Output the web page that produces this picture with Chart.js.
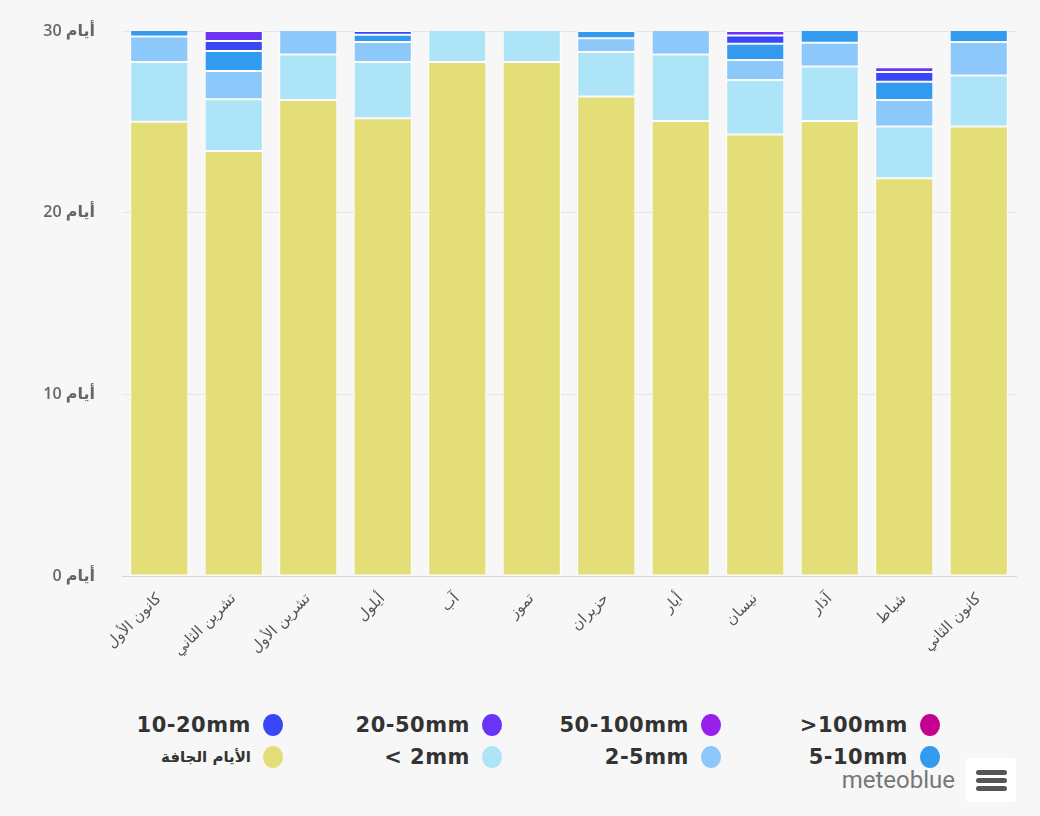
<!DOCTYPE html>
<html lang="ar">
<head>
<meta charset="utf-8">
<title>أيام الهطول - meteoblue</title>
<script src="https://cdn.jsdelivr.net/npm/chart.js@4/dist/chart.umd.min.js"></script>
<style>
  html, body {
    margin: 0;
    padding: 0;
    background: #f7f7f7;
    width: 1040px;
    height: 816px;
    overflow: hidden;
    font-family: "Open Sans", "DejaVu Sans", sans-serif;
  }
  #chartBox {
    position: absolute;
    left: 0;
    top: 0;
    width: 1040px;
    height: 700px;
  }
  .legend-item {
    position: absolute;
    display: flex;
    align-items: center;
    height: 26px;
    white-space: nowrap;
  }
  .legend-item span.txt {
    font-family: "DejaVu Sans", sans-serif;
    font-weight: bold;
    font-size: 21px;
    letter-spacing: 0.5px;
    color: #333;
    margin-right: 12px;
  }
  .legend-item span.txt.ar {
    font-size: 15px;
    letter-spacing: 0;
  }
  .legend-item span.dot {
    width: 20px;
    height: 22px;
    border-radius: 50%;
    display: inline-block;
  }
  #brand {
    position: absolute;
    right: 85px;
    top: 766px;
    font-family: Roboto, "Open Sans", sans-serif;
    font-size: 24px;
    color: #777;
  }
  #menu {
    position: absolute;
    left: 966px;
    top: 758px;
    width: 50px;
    height: 44px;
    background: #fff;
    border-radius: 3px;
  }
  #menu i {
    position: absolute;
    left: 10px;
    width: 31px;
    height: 5px;
    border-radius: 3px;
    background: #555;
  }
</style>
</head>
<body>
<div id="chartBox"><canvas id="rainDays"></canvas></div>
<div id="legend"></div>
<div id="brand">meteoblue</div>
<div id="menu"><i style="top:12px"></i><i style="top:20px"></i><i style="top:28px"></i></div>

<script>
// Months, January -> December (x axis is reversed so it reads right to left)
const months = ['كانون الثاني', 'شباط', 'آذار', 'نيسان', 'أيار', 'حزيران',
  'تموز', 'آب', 'أيلول', 'تشرين الأول', 'تشرين الثاني', 'كانون الأول'];

// days per month in each precipitation class
const dryDays   = [24.75, 21.9, 25.05, 24.3, 25.05, 26.4, 28.3, 28.3, 25.2, 26.2, 23.4, 25.0];
const below2    = [2.8, 2.85, 3.0, 3.0, 3.65, 2.45, 2.7, 2.7, 3.1, 2.5, 2.85, 3.3];
const from2to5  = [1.85, 1.45, 1.3, 1.1, 1.6, 0.75, 0, 0, 1.1, 1.5, 1.55, 1.4];
const from5to10 = [1.0, 1.0, 1.0, 0.9, 0.5, 0.4, 0, 0, 0.4, 0.6, 1.1, 0.9];
const from10to20 = [0.4, 0.55, 0.4, 0.45, 0.2, 0, 0, 0, 0.2, 0.2, 0.55, 0.3];
const from20to50 = [0.2, 0.25, 0.25, 0.25, 0, 0, 0, 0, 0, 0, 0.55, 0.1];
const from50to100 = [0, 0, 0, 0, 0, 0, 0, 0, 0, 0, 0, 0];
const above100  = [0, 0, 0, 0, 0, 0, 0, 0, 0, 0, 0, 0];

const yTicks = [0, 10, 20, 30];
const dayUnit = 'أيام';

// bottom of the stack first
const seriesNames = ['الأيام الجافة', '< 2mm', '2-5mm', '5-10mm', '10-20mm', '20-50mm', '50-100mm', '>100mm'];
const seriesData = [dryDays, below2, from2to5, from5to10, from10to20, from20to50, from50to100, above100];
const seriesColors = ['#e3de78', '#aee4f7', '#8cc8fa', '#329bf0', '#3747f8', '#6a33f8', '#9720eb', '#c4008f'];

const datasets = seriesNames.map((name, i) => ({
  label: name,
  data: seriesData[i],
  backgroundColor: seriesColors[i],
  borderColor: 'rgba(255,255,255,0.9)',
  borderWidth: 1,
  borderSkipped: false,
  barPercentage: 0.78,
  categoryPercentage: 1
}));

const ctx = document.getElementById('rainDays').getContext('2d');
const chart = new Chart(ctx, {
  type: 'bar',
  data: {
    labels: months,
    datasets: datasets
  },
  options: {
    responsive: true,
    maintainAspectRatio: false,
    animation: false,
    layout: {
      padding: { top: 31, right: 24, left: 0, bottom: 0 }
    },
    scales: {
      x: {
        stacked: true,
        reverse: true,
        grid: { display: false },
        border: { color: '#ccd6eb', width: 1 },
        ticks: {
          color: '#555',
          font: { family: '"DejaVu Sans", sans-serif', size: 15 },
          minRotation: 45,
          maxRotation: 45,
          padding: 6,
          autoSkip: false
        },
        afterFit: function(scale) {
          scale.height = 124;
        }
      },
      y: {
        stacked: true,
        min: yTicks[0],
        max: yTicks[yTicks.length - 1],
        afterBuildTicks: function(scale) {
          scale.ticks = yTicks.map(v => ({ value: v }));
        },
        grid: {
          color: '#e6e6e6',
          drawTicks: false
        },
        border: { display: false },
        ticks: {
          color: '#666',
          padding: 27,
          font: { family: '"Open Sans", "DejaVu Sans", sans-serif', size: 16, weight: '600' },
          callback: function(value) {
            return value + ' ' + dayUnit;
          }
        },
        afterFit: function(scale) {
          scale.width = 122;
          // the tick padding would otherwise push the plot area down
          scale.paddingTop = 0;
          scale.paddingBottom = 0;
        }
      }
    },
    plugins: {
      legend: { display: false },
      tooltip: { enabled: false }
    }
  }
});

// HTML legend: 2 rows of 4, laid out right to left, text left of the dot
function buildLegend() {
  const box = document.getElementById('legend');
  const items = chart.data.datasets.slice().reverse();
  items.forEach((ds, i) => {
    const col = i % 4;
    const row = Math.floor(i / 4);
    const dotX = 930 - col * 219;
    const centerY = 725 + row * 32;
    const item = document.createElement('div');
    item.className = 'legend-item';
    item.style.right = (1040 - dotX - 10) + 'px';
    item.style.top = (centerY - 13) + 'px';
    const txt = document.createElement('span');
    txt.className = 'txt' + (/[\u0600-\u06FF]/.test(ds.label) ? ' ar' : '');
    txt.textContent = ds.label;
    const dot = document.createElement('span');
    dot.className = 'dot';
    dot.style.background = ds.backgroundColor;
    item.appendChild(txt);
    item.appendChild(dot);
    box.appendChild(item);
  });
}
buildLegend();
</script>
</body>
</html>
